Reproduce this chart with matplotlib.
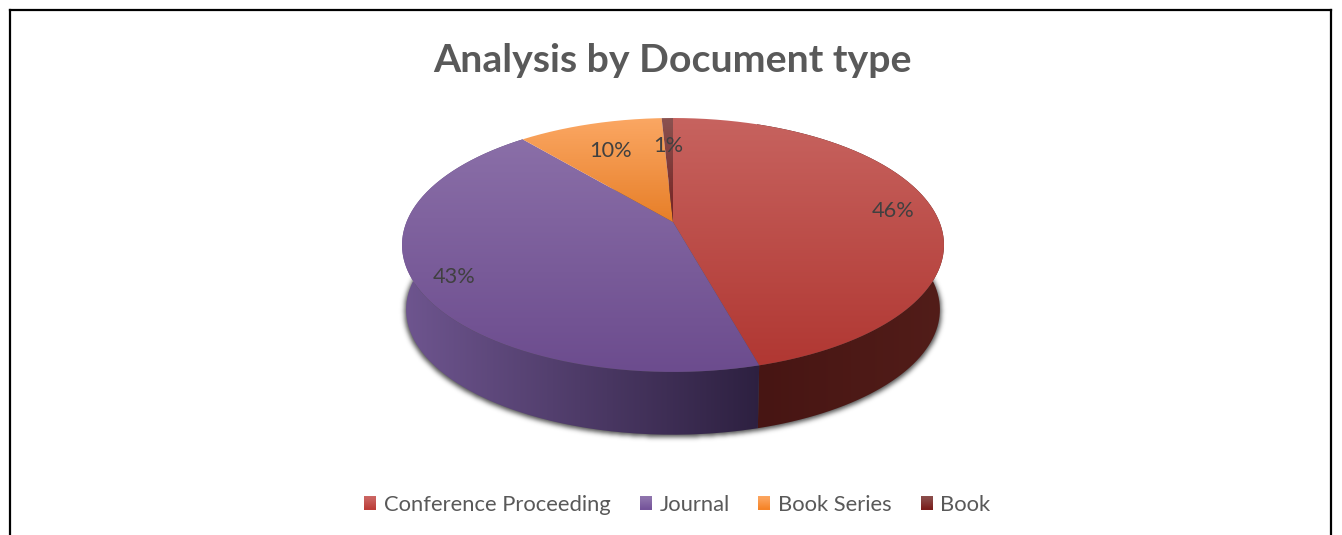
import numpy as np
import matplotlib
matplotlib.use("Agg")
import matplotlib.pyplot as plt
from matplotlib.colors import to_rgb
from matplotlib.legend_handler import HandlerBase
from matplotlib.lines import Line2D
from matplotlib.patches import PathPatch, Patch, Rectangle
from matplotlib.path import Path

# ---- data ----
categories = ["Conference Proceeding", "Journal", "Book Series", "Book"]
shares = [45.7, 43.2, 10.3, 0.8]
title_text = "Analysis by Document type"

# ---- style ----
top_colors = [("#C7635F", "#B03631"), ("#8D72AA", "#6C4C8E"), ("#FBA763", "#E2751A"), ("#8A5250", "#6E1414")]
swatch_colors = [("#CB6663", "#BC3E39"), ("#8F75AD", "#75549A"), ("#FCA55F", "#F58428"), ("#8B4D4B", "#7A1F1D")]
side_colors = [("#471513", "#521D19"), ("#6F5690", "#2D2040"), None, None]
label_radius = [0.85, 0.86, 0.72, 0.72]
TEXT_DARK = "#404040"
TEXT_GRAY = "#595959"
plt.rcParams["font.family"] = ["Lato", "DejaVu Sans"]

W, H = 1342, 535
CX, CY, A, B, K = 673.0, 222.0, 266.5, 122.8, 0.181
DEPTH, SCALE = 65.0, 0.985


def project(theta, r=1.0, scale=1.0, dy=0.0):
    """Pie-plane point (clockwise angle from 12 o'clock) to screen, with perspective."""
    u, v = r * np.sin(theta), r * np.cos(theta)
    w = 1 + K * v
    return CX + scale * A * u / w, CY + dy - scale * B * v / w


def gradient_fill(ax, path, c0, c1, extent, horizontal=False, zorder=2):
    n = 256
    t = np.linspace(0, 1, n)[:, None]
    rgb = (1 - t) * np.array(to_rgb(c0)) + t * np.array(to_rgb(c1))
    img = rgb[None, :, :] if horizontal else rgb[:, None, :]
    im = ax.imshow(img, extent=extent, origin="upper", aspect="auto",
                   interpolation="bilinear", zorder=zorder)
    patch = PathPatch(path, transform=ax.transData, fc="none", ec="none")
    ax.add_patch(patch)
    im.set_clip_path(patch)


fig = plt.figure(figsize=(W / 100, H / 100), dpi=100, facecolor="white")
ax = fig.add_axes([0, 0, 1, 1])
ax.axis("off")

# wedge boundaries from the values
frac = np.cumsum([0] + shares) / sum(shares) * 2 * np.pi
mids = (frac[:-1] + frac[1:]) / 2

# soft shadow beneath the disc
th = np.linspace(0, 2 * np.pi, 721)
sx, sy = project(th, scale=SCALE * 1.006, dy=DEPTH + 1.5)
gx, gy = np.meshgrid(np.arange(W) + 0.5, np.arange(H) + 0.5)
pts = np.column_stack([gx.ravel(), gy.ravel()])
mask = Path(np.column_stack([sx, sy])).contains_points(pts).reshape(H, W).astype(float)
kernel = np.exp(-0.5 * (np.arange(-8, 9) / 2.5) ** 2)
kernel /= kernel.sum()
blur = np.apply_along_axis(lambda r: np.convolve(r, kernel, mode="same"), 0, mask)
blur = np.apply_along_axis(lambda r: np.convolve(r, kernel, mode="same"), 1, blur)
shadow = np.zeros((H, W, 4))
shadow[..., 3] = blur * 0.7
ax.imshow(shadow, extent=(0, W, H, 0), aspect="auto", zorder=1)

# side walls
for i, cols in enumerate(side_colors):
    if cols is None:
        continue
    t = np.linspace(frac[i], frac[i + 1], 200)
    x0, y0 = project(t)
    x1, y1 = project(t, scale=SCALE, dy=DEPTH)
    poly = np.column_stack([np.r_[x0, x1[::-1]], np.r_[y0, y1[::-1]]])
    if i == 0:
        x_lo, x_hi = x0[-1], poly[:, 0].max()
    else:
        x_lo, x_hi = CX - A * 1.02, x0[0]
    gradient_fill(ax, Path(poly), cols[0], cols[1],
                  (x_lo - 2, x_hi + 2, H, 0), horizontal=True, zorder=2)

# top surface
Y_TOP, Y_BOT = project(0.0)[1], project(np.pi)[1]
for i, (c0, c1) in enumerate(top_colors):
    t = np.linspace(frac[i], frac[i + 1], 300)
    x, y = project(t)
    poly = np.column_stack([np.r_[CX, x, CX], np.r_[CY, y, CY]])
    ylo, yhi = (Y_TOP, Y_BOT) if i < 2 else (Y_TOP, CY + 25)
    gradient_fill(ax, Path(poly), c0, c1, (0, W, yhi, ylo), zorder=3 + i * 0.1)

ax.set_xlim(0, W)
ax.set_ylim(H, 0)

# data labels
for i, m in enumerate(mids):
    x, y = project(m, r=label_radius[i], dy=2.5)
    ax.text(x, y, f"{round(shares[i])}%", ha="center", va="center",
            fontsize=15.7, color=TEXT_DARK, zorder=6)

# title
ax.text(672, 60.5, title_text, ha="center", va="center", fontsize=28.3,
        fontweight="bold", color=TEXT_GRAY, zorder=6)


class GradientSwatch(HandlerBase):
    def create_artists(self, legend, orig, xd, yd, width, height, fontsize, trans):
        c0, c1 = orig.gradient
        out = []
        n = 12
        for k in range(n):
            f = k / (n - 1)
            col = (1 - f) * np.array(to_rgb(c0)) + f * np.array(to_rgb(c1))
            out.append(Rectangle((-xd, -yd + height * (1 - (k + 1) / n)), width, height / n + 0.2,
                                 fc=col, ec="none", transform=trans))
        return out


handles = []
for name, g in zip(categories, swatch_colors):
    h = Patch(label=name)
    h.gradient = g
    handles.append(h)
leg = ax.legend(handles=handles, loc="center", bbox_to_anchor=(677.5, 505),
                bbox_transform=ax.transData, ncol=4, frameon=False, fontsize=15.8,
                labelcolor=TEXT_GRAY, handler_map={Patch: GradientSwatch()},
                handlelength=0.55, handleheight=0.55, handletextpad=0.36,
                columnspacing=1.3, borderpad=0, borderaxespad=0)
leg.set_zorder(6)

# outer frame (cut off at the bottom of the picture)
for xs, ys in [((10, 1331), (10, 10)), ((10, 10), (10, H)), ((1331, 1331), (10, H))]:
    ax.add_line(Line2D(xs, ys, color="black", lw=1.6, solid_capstyle="projecting", zorder=7))

fig.savefig("out.png", dpi=100, facecolor="white")
